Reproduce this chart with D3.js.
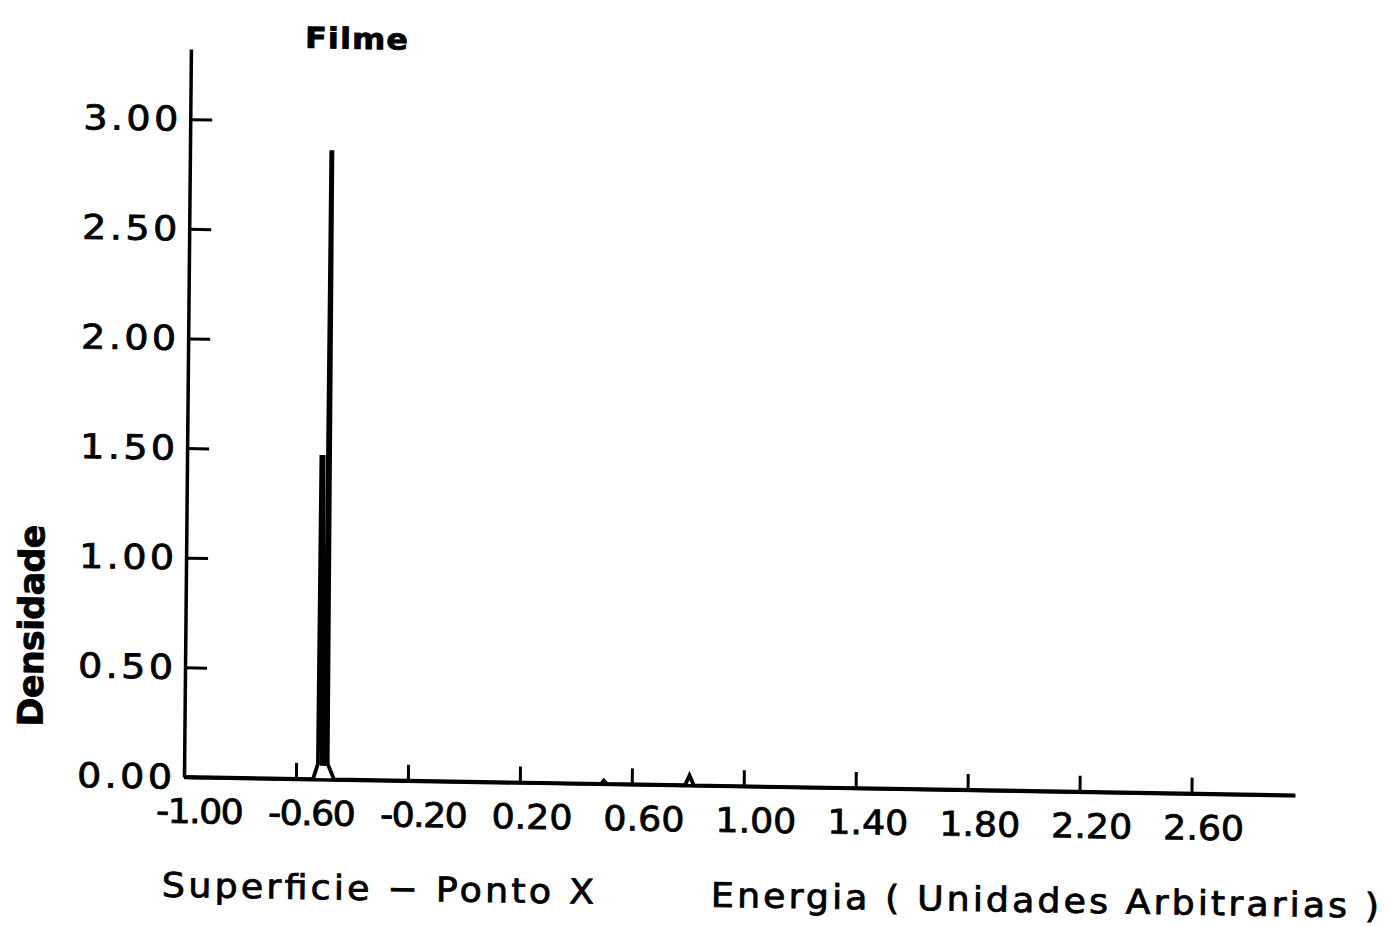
<!DOCTYPE html>
<html>
<head>
<meta charset="utf-8">
<script src="https://cdn.jsdelivr.net/npm/d3@7"></script>
<style>
  html, body { margin: 0; padding: 0; background: #fff; }
  svg { display: block; }
  text { font-family: "DejaVu Sans", sans-serif; fill: #000; stroke: #000; stroke-width: 0.8; }
</style>
</head>
<body>
<svg id="chart" width="1390" height="926"></svg>
<script>
// Densidade de estados na superficie, ponto X
const energia = [-1.00, -0.539, -0.522, -0.520, -0.512, -0.508, -0.498, -0.495,
                 -0.491, -0.487, -0.464, 0.490, 0.500, 0.512,
                 0.790, 0.806, 0.822, 2.97];
const densidade = [0.00, 0.00, 0.07, 1.47, 1.47, 0.07, 0.07, 2.86,
                   2.86, 0.07, 0.00, 0.00, 0.015, 0.00,
                   0.00, 0.045, 0.00, 0.00];

const xTicks = [-1.00, -0.60, -0.20, 0.20, 0.60, 1.00, 1.40, 1.80, 2.20, 2.60];
const xTickLabels = ["-1.00", "-0.60", "-0.20", "0.20", "0.60", "1.00", "1.40", "1.80", "2.20", "2.60"];
const yTicks = [0.00, 0.50, 1.00, 1.50, 2.00, 2.50, 3.00];
const yTickLabels = ["0.00", "0.50", "1.00", "1.50", "2.00", "2.50", "3.00"];

const titulo = "Filme";
const rotuloY = "Densidade";
const rotuloX1 = "Superficie \u2212 Ponto X";
const rotuloX2 = "Energia  ( Unidades  Arbitrarias )";

const x0 = 184, y0 = 777;
const x = d3.scaleLinear().domain([-1.00, 2.97]).range([x0, 1295]);
const y = d3.scaleLinear().domain([0, 3.32]).range([y0, 49]);

const svg = d3.select("#chart");

// widen lettering horizontally about its anchor point
function stretch(sel, sx) {
  sel.each(function () {
    const t = d3.select(this);
    const ax = (+t.attr("x") || 0) + (+t.attr("dx") || 0);
    t.attr("transform", `translate(${ax},0) scale(${sx},1) translate(${-ax},0)`);
  });
}

// the plotted sheet is slightly askew
const g = svg.append("g")
  .attr("transform", `translate(${x0},${y0}) matrix(1,0.0165,-0.0095,1,0,0) translate(${-x0},${-y0})`);

// y axis: ticks pointing into the plot
const yAxis = g.append("g")
  .attr("transform", `translate(${x0},0)`)
  .call(d3.axisLeft(y).tickValues(yTicks)
    .tickFormat((d, i) => yTickLabels[i])
    .tickSizeInner(-22).tickSizeOuter(0).tickPadding(12));
yAxis.select(".domain").attr("stroke", "#000").attr("stroke-width", 3.5);
yAxis.selectAll(".tick line").attr("stroke", "#000").attr("stroke-width", 3);
yAxis.selectAll(".tick text")
  .attr("font-size", 34)
  .attr("dy", "0.33em")
  .attr("textLength", 95 / 1.12)
  .attr("lengthAdjust", "spacing")
  .call(stretch, 1.12);

// x axis: ticks pointing up
const xAxis = g.append("g")
  .attr("transform", `translate(0,${y0})`)
  .call(d3.axisBottom(x).tickValues(xTicks)
    .tickFormat((d, i) => xTickLabels[i])
    .tickSizeInner(-16).tickSizeOuter(0).tickPadding(46));
xAxis.select(".domain").attr("stroke", "#000").attr("stroke-width", 3.5);
xAxis.selectAll(".tick line").attr("stroke", "#000").attr("stroke-width", 3);
xAxis.selectAll(".tick text")
  .attr("font-size", 34)
  .attr("dy", 0)
  .attr("dx", (d, i) => (xTickLabels[i].startsWith("-") ? 15 : 12))
  .attr("letter-spacing", (d, i) => (xTickLabels[i].startsWith("-") ? -1.5 : 0))
  .call(stretch, 1.07);

// density curve
const line = d3.line()
  .x((d, i) => x(energia[i]))
  .y(d => y(d));
g.append("path")
  .datum(densidade)
  .attr("d", line)
  .attr("fill", "none")
  .attr("stroke", "#000")
  .attr("stroke-width", 3.8)
  .attr("stroke-linejoin", "miter");

// labels
g.append("text")
  .attr("x", 298).attr("y", 46)
  .attr("font-size", 29).attr("font-weight", "bold")
  .attr("textLength", 103 / 1.1).attr("lengthAdjust", "spacing")
  .text(titulo)
  .call(stretch, 1.1);

g.append("text")
  .attr("transform", "translate(42,729) rotate(-90)")
  .attr("font-size", 35).attr("font-weight", "bold")
  .attr("textLength", 202).attr("lengthAdjust", "spacing")
  .text(rotuloY);

g.append("text")
  .attr("x", 163).attr("y", 897)
  .attr("font-size", 34)
  .attr("textLength", 432 / 1.07).attr("lengthAdjust", "spacing")
  .text(rotuloX1)
  .call(stretch, 1.07);

g.append("text")
  .attr("x", 712).attr("y", 898)
  .attr("font-size", 34)
  .attr("textLength", 668 / 1.07).attr("lengthAdjust", "spacing")
  .text(rotuloX2)
  .call(stretch, 1.07);
</script>
</body>
</html>
